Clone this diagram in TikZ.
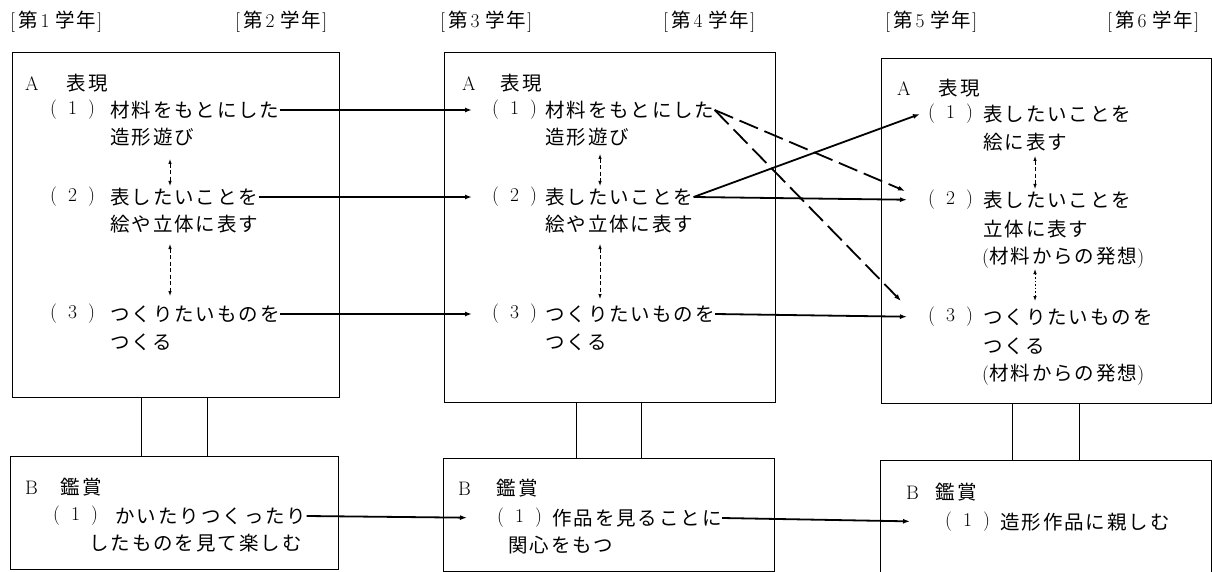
\documentclass[tikz,border=0pt]{standalone}
\usepackage{fontspec}
\usetikzlibrary{arrows.meta}
\newfontfamily\jp[LetterSpace=10]{Noto Sans CJK JP}
\newcommand{\pnum}[1]{(\hspace{11pt}#1\hspace{11pt})}
\newcommand{\grade}[1]{[\hspace{3pt}{\jp 第}\hspace{3pt}#1\hspace{6pt}{\jp 学年}\hspace{1pt}]}
\tikzset{
  txt/.style={inner sep=0pt, anchor=west, font=\fontsize{19.5}{21}\selectfont},
  jt/.style={inner sep=0pt, anchor=west, font=\fontsize{19.5}{21}\selectfont\jp},
  box/.style={draw, line width=0.8pt, anchor=north west, inner sep=0pt},
  link/.style={line width=0.8pt},
  arr/.style={line width=1.8pt, -{Latex[length=7pt,width=5pt]}},
  dsh/.style={arr, dash pattern=on 20pt off 7pt},
  vd/.style={line width=0.8pt, {Latex[length=5pt,width=3.5pt]}-{Latex[length=5pt,width=3.5pt]}, dash pattern=on 4pt off 2.5pt},
  vdot/.style={line width=0.8pt, {Latex[length=5pt,width=3.5pt]}-{Latex[length=5pt,width=3.5pt]}, dash pattern=on 1.5pt off 2pt}
}
\begin{document}
\begin{tikzpicture}[x=1pt,y=-1pt]
\useasboundingbox (0,0) rectangle (1212,572);
% headers
\node[txt] (h1) at (10,22) {\grade{1}};
\node[txt] (h2) at (235,22) {\grade{2}};
\node[txt] (h3) at (440,22) {\grade{3}};
\node[txt] (h4) at (663,22) {\grade{4}};
\node[txt] (h5) at (885,22) {\grade{5}};
\node[txt] (h6) at (1107,22) {\grade{6}};
% boxes
\node[box, minimum width=327pt, minimum height=345pt] (A1) at (12,52) {};
\node[box, minimum width=331pt, minimum height=350pt] (A2) at (444,52) {};
\node[box, minimum width=330pt, minimum height=345pt] (A3) at (881,58) {};
\node[box, minimum width=328pt, minimum height=113pt] (B1) at (10,456) {};
\node[box, minimum width=331pt, minimum height=113pt] (B2) at (443,458) {};
\node[box, minimum width=331pt, minimum height=122pt] (B3) at (880,460) {};
% links between A and B
\draw[link] ([xshift=129pt]A1.south west) -- ([xshift=129pt]A1.south west |- B1.north);
\draw[link] ([xshift=195pt]A1.south west) -- ([xshift=195pt]A1.south west |- B1.north);
\draw[link] ([xshift=132pt]A2.south west) -- ([xshift=132pt]A2.south west |- B2.north);
\draw[link] ([xshift=197pt]A2.south west) -- ([xshift=197pt]A2.south west |- B2.north);
\draw[link] ([xshift=131pt]A3.south west) -- ([xshift=131pt]A3.south west |- B3.north);
\draw[link] ([xshift=198pt]A3.south west) -- ([xshift=198pt]A3.south west |- B3.north);
% box 1
\node[txt] (a1h) at (25,83) {A\hspace{28pt}{\jp 表現}};
\node[txt] (a1n1) at (50,110) {\pnum{1}};
\node[jt] (a1r1) at (110,110) {材料をもとにした};
\node[jt] (a1s1) at (110,137) {造形遊び};
\node[txt] (a1n2) at (50,197) {\pnum{2}};
\node[jt] (a1r2) at (110,197) {表したいことを};
\node[jt] (a1s2) at (110,224) {絵や立体に表す};
\node[txt] (a1n3) at (50,314) {\pnum{3}};
\node[jt] (a1r3) at (110,314) {つくりたいものを};
\node[jt] (a1s3) at (110,342) {つくる};
% box 2
\node[txt] (a2h) at (462,83) {A\hspace{25pt}{\jp 表現}};
\node[txt] (a2n1) at (492,110) {\pnum{1}};
\node[jt] (a2r1) at (545,110) {材料をもとにした};
\node[jt] (a2s1) at (545,137) {造形遊び};
\node[txt] (a2n2) at (492,197) {\pnum{2}};
\node[jt] (a2r2) at (545,197) {表したいことを};
\node[jt] (a2s2) at (545,224) {絵や立体に表す};
\node[txt] (a2n3) at (492,314) {\pnum{3}};
\node[jt] (a2r3) at (545,314) {つくりたいものを};
\node[jt] (a2s3) at (545,342) {つくる};
% box 3
\node[txt] (a3h) at (897,88) {A\hspace{28pt}{\jp 表現}};
\node[txt] (a3n1) at (928,114) {\pnum{1}};
\node[jt] (a3r1) at (983,114) {表したいことを};
\node[jt] (a3s1) at (983,142) {絵に表す};
\node[txt] (a3n2) at (928,200) {\pnum{2}};
\node[jt] (a3r2) at (983,200) {表したいことを};
\node[jt] (a3s2) at (983,229) {立体に表す};
\node[txt] (a3t2) at (982,258) {({\jp 材料からの発想})};
\node[txt] (a3n3) at (928,317) {\pnum{3}};
\node[jt] (a3r3) at (983,317) {つくりたいものを};
\node[jt] (a3s3) at (983,346) {つくる};
\node[txt] (a3t3) at (982,375) {({\jp 材料からの発想})};
% B boxes
\node[txt] (b1h) at (25,487) {B\hspace{23pt}{\jp 鑑賞}};
\node[txt] (b1n1) at (53,516) {\pnum{1}};
\node[jt] (b1r1) at (115,516) {かいたりつくったり};
\node[jt] (b1s1) at (89,543) {したものを見て楽しむ};
\node[txt] (b2h) at (458,488) {B\hspace{26pt}{\jp 鑑賞}};
\node[txt] (b2n1) at (497,518) {\pnum{1}};
\node[jt] (b2r1) at (552,518) {作品を見ることに};
\node[jt] (b2s1) at (508,545) {関心をもつ};
\node[txt] (b3h) at (906,492) {B\hspace{17pt}{\jp 鑑賞}};
\node[txt] (b3n1) at (945,522) {\pnum{1}};
\node[jt] (b3r1) at (1000,522) {造形作品に親しむ};
% vertical double arrows
\coordinate (v1a) at (170,159); \coordinate (v1b) at (170,186);
\coordinate (v2a) at (170,244); \coordinate (v2b) at (170,296);
\coordinate (v3a) at (600,154); \coordinate (v3b) at (600,186);
\coordinate (v4a) at (600,244); \coordinate (v4b) at (600,299);
\coordinate (v5a) at (1035,156); \coordinate (v5b) at (1035,189);
\coordinate (v6a) at (1035,269); \coordinate (v6b) at (1035,301);
\draw[vd] (v1a) -- (v1b);
\draw[vd] (v2a) -- (v2b);
\draw[vd] (v3a) -- (v3b);
\draw[vd] (v4a) -- (v4b);
\draw[vd] (v5a) -- (v5b);
\draw[vdot] (v6a) -- (v6b);
% main arrows
\coordinate (t1) at (920,114);
\coordinate (t2) at (905,191);
\coordinate (t3) at (901,301);
\draw[arr, shorten >=20pt] (a1r1.east) -- (a2n1.west);
\draw[arr, shorten >=20pt] (a1r2.east) -- (a2n2.west);
\draw[arr, shorten >=20pt] (a1r3.east) -- (a2n3.west);
\draw[arr, shorten >=21pt] (a2r2.east) -- (a3n2.west);
\draw[arr, shorten >=21pt] (a2r3.east) -- (a3n3.west);
\draw[arr] (a2r2.east) -- (t1);
\draw[dsh] (a2r1.east) -- (t2);
\draw[dsh] (a2r1.east) -- (t3);
\draw[arr, shorten >=30pt] (b1r1.east) -- (b2n1.west);
\draw[arr, shorten >=35pt] (b2r1.east) -- (b3n1.west);
\end{tikzpicture}
\end{document}
